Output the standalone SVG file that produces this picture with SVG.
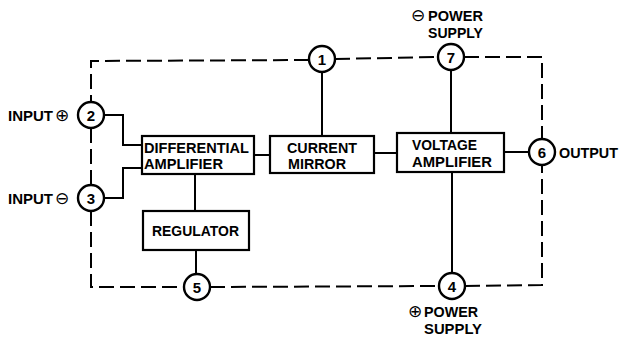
<svg xmlns="http://www.w3.org/2000/svg" width="621" height="343" viewBox="0 0 621 343">
<style>
.box{fill:#fff;stroke:#000;stroke-width:2.2}
.pin{fill:#fff;stroke:#000;stroke-width:2.4}
.w{fill:none;stroke:#000;stroke-width:2}
.d{fill:none;stroke:#000;stroke-width:2;stroke-dasharray:15 6}
.t{font-family:"Liberation Sans",Arial,sans-serif;font-weight:bold;font-size:15px;fill:#000}
.n{font-family:"Liberation Sans",Arial,sans-serif;font-weight:bold;font-size:15px;fill:#000;text-anchor:middle}
.s{font-family:"DejaVu Sans",sans-serif;font-size:17px;fill:#000;text-anchor:middle}
</style>
<rect width="621" height="343" fill="#fff"/>
<g id="connectors">
<path class="d" d="M309,60 L91,61 L91,102"/>
<path class="d" d="M91,128 L91,185"/>
<path class="d" d="M91,211 L91,287 L184,287"/>
<path class="d" d="M210,287 L439,286"/>
<path class="d" d="M465,286 L542,285 L542,165"/>
<path class="d" d="M335,59 L438,57"/>
<path class="d" d="M464,57 L542,57 L542,139"/>
<path class="w" d="M104,115 L123,115 L123,145 L142,145"/>
<path class="w" d="M104,198 L123,198 L123,168 L142,168"/>
<path class="w" d="M254,155 L270,155"/>
<path class="w" d="M374,153 L397,153"/>
<path class="w" d="M504,152 L529,152"/>
<path class="w" d="M322,72 L322,136"/>
<path class="w" d="M451,70 L451,133"/>
<path class="w" d="M452,172 L452,273"/>
<path class="w" d="M195,174 L195,211"/>
<path class="w" d="M196,250 L196,274"/>
</g>
<g id="diff-amp">
<rect class="box" x="142" y="136" width="112" height="38"/>
<text class="t" x="144" y="153" textLength="105" lengthAdjust="spacingAndGlyphs">DIFFERENTIAL</text>
<text class="t" x="144" y="169" textLength="79" lengthAdjust="spacingAndGlyphs">AMPLIFIER</text>
</g>
<g id="current-mirror">
<rect class="box" x="270" y="136" width="104" height="37"/>
<text class="t" x="287" y="153" textLength="70" lengthAdjust="spacingAndGlyphs">CURRENT</text>
<text class="t" x="288" y="169" textLength="58" lengthAdjust="spacingAndGlyphs">MIRROR</text>
</g>
<g id="voltage-amp">
<rect class="box" x="397" y="133" width="107" height="39"/>
<text class="t" x="412" y="150" textLength="65" lengthAdjust="spacingAndGlyphs">VOLTAGE</text>
<text class="t" x="412" y="167" textLength="80" lengthAdjust="spacingAndGlyphs">AMPLIFIER</text>
</g>
<g id="regulator">
<rect class="box" x="143" y="211" width="106" height="39"/>
<text class="t" x="152" y="236" textLength="87" lengthAdjust="spacingAndGlyphs">REGULATOR</text>
</g>
<g id="pin1"><circle class="pin" cx="322" cy="59" r="13"/><text class="n" x="322" y="64.5">1</text></g>
<g id="pin2"><circle class="pin" cx="91" cy="115" r="13"/><text class="n" x="91" y="120.5">2</text></g>
<g id="pin3"><circle class="pin" cx="91" cy="198" r="13"/><text class="n" x="91" y="203.5">3</text></g>
<g id="pin4"><circle class="pin" cx="452" cy="286" r="13"/><text class="n" x="452" y="291.5">4</text></g>
<g id="pin5"><circle class="pin" cx="197" cy="287" r="13"/><text class="n" x="197" y="292.5">5</text></g>
<g id="pin6"><circle class="pin" cx="542" cy="152" r="13"/><text class="n" x="542" y="157.5">6</text></g>
<g id="pin7"><circle class="pin" cx="451" cy="57" r="13"/><text class="n" x="451" y="62.5">7</text></g>
<g id="labels">
<text class="t" x="8" y="121" textLength="45" lengthAdjust="spacingAndGlyphs">INPUT</text><text class="s" x="62" y="121">⊕</text>
<text class="t" x="8" y="204" textLength="45" lengthAdjust="spacingAndGlyphs">INPUT</text><text class="s" x="62" y="204">⊖</text>
<text class="t" x="559" y="158" textLength="59" lengthAdjust="spacingAndGlyphs">OUTPUT</text>
<text class="s" x="418" y="21">⊖</text><text class="t" x="428" y="21" textLength="55" lengthAdjust="spacingAndGlyphs">POWER</text>
<text class="t" x="428" y="38" textLength="55" lengthAdjust="spacingAndGlyphs">SUPPLY</text>
<text class="s" x="415" y="317">⊕</text><text class="t" x="424" y="317" textLength="54" lengthAdjust="spacingAndGlyphs">POWER</text>
<text class="t" x="424" y="334" textLength="58" lengthAdjust="spacingAndGlyphs">SUPPLY</text>
</g>
</svg>
